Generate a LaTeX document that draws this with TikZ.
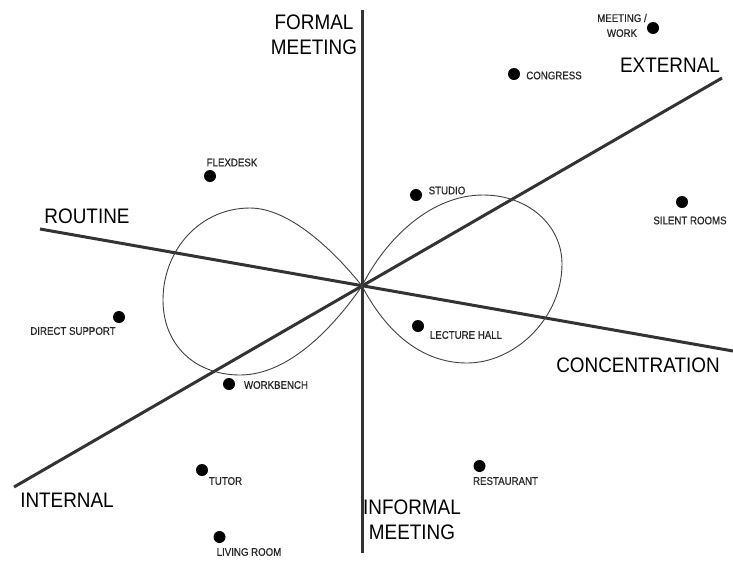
\documentclass[tikz,border=0pt]{standalone}
\usepackage{fontspec}
\setmainfont{Liberation Sans}[FakeStretch=0.9]
\newfontfamily\placefont{Liberation Sans}[FakeStretch=0.88,FakeBold=0.6]
\begin{document}
\begin{tikzpicture}[x=1pt,y=-1pt,
		axis/.style={line width=3pt, black!80},
		lobe/.style={line width=0.9pt, black!75},
		dot/.style={circle, fill=black, inner sep=0pt, minimum size=12pt},
		big/.style={font=\fontsize{21}{25}\selectfont, align=center, inner sep=0pt},
		small/.style={font=\placefont\fontsize{11}{15}\selectfont, black!85, align=center, inner sep=0pt}]
	\useasboundingbox (0,0) rectangle (733,563);
	% axes
	\coordinate (o) at (362,286);
	\coordinate (top) at (362,10);
	\coordinate (bottom) at (362,553);
	\coordinate (routine) at (40,229);
	\coordinate (concentration) at (733,351);
	\coordinate (internal) at (14,487);
	\coordinate (external) at (722,78);
	\draw[axis] (top) -- (bottom);
	\draw[axis] (routine) -- (concentration);
	\draw[axis] (internal) -- (external);
	% figure eight
	\draw[lobe] (o) .. controls (335,252) and (290,208) .. (250,208)
		.. controls (200,208) and (163,250) .. (163,300)
		.. controls (163,345) and (195,375) .. (240,375)
		.. controls (290,375) and (335,325) .. (o);
	\draw[lobe] (o) .. controls (385,240) and (430,195) .. (483,195)
		.. controls (528,195) and (562,225) .. (562,264)
		.. controls (562,318) and (515,363) .. (467,363)
		.. controls (420,363) and (385,330) .. (o);
	% axis labels
	\node[big] (formal) at (314,35) {FORMAL\\MEETING};
	\node[big] (informal) at (412,520) {INFORMAL\\MEETING};
	\node[big] (routinelabel) at (87,216) {ROUTINE};
	\node[big] (concentrationlabel) at (638,365) {CONCENTRATION};
	\node[big] (internallabel) at (67,500) {INTERNAL};
	\node[big] (externallabel) at (670,65) {EXTERNAL};
	% places
	\node[dot] (meeting) at (653,28) {};
	\node[small] (meetinglabel) at (622,25.5) {MEETING /\\WORK};
	\node[dot] (congress) at (514,74) {};
	\node[small] (congresslabel) at (554,75.5) {CONGRESS};
	\node[dot] (flexdesk) at (210,176) {};
	\node[small] (flexdesklabel) at (232,162.5) {FLEXDESK};
	\node[dot] (studio) at (416,195) {};
	\node[small] (studiolabel) at (447,190.5) {STUDIO};
	\node[dot] (silent) at (682,202) {};
	\node[small] (silentlabel) at (690,220.5) {SILENT ROOMS};
	\node[dot] (direct) at (119,317) {};
	\node[small] (directlabel) at (73,331) {DIRECT SUPPORT};
	\node[dot] (lecture) at (418,326) {};
	\node[small] (lecturelabel) at (466,335) {LECTURE HALL};
	\node[dot] (workbench) at (229,384) {};
	\node[small] (workbenchlabel) at (276,385) {WORKBENCH};
	\node[dot] (tutor) at (202,470) {};
	\node[small] (tutorlabel) at (225.5,481) {TUTOR};
	\node[dot] (restaurant) at (479.5,466) {};
	\node[small] (restaurantlabel) at (505.5,481) {RESTAURANT};
	\node[dot] (living) at (219.5,537) {};
	\node[small] (livinglabel) at (249,552) {LIVING ROOM};
\end{tikzpicture}
\end{document}
